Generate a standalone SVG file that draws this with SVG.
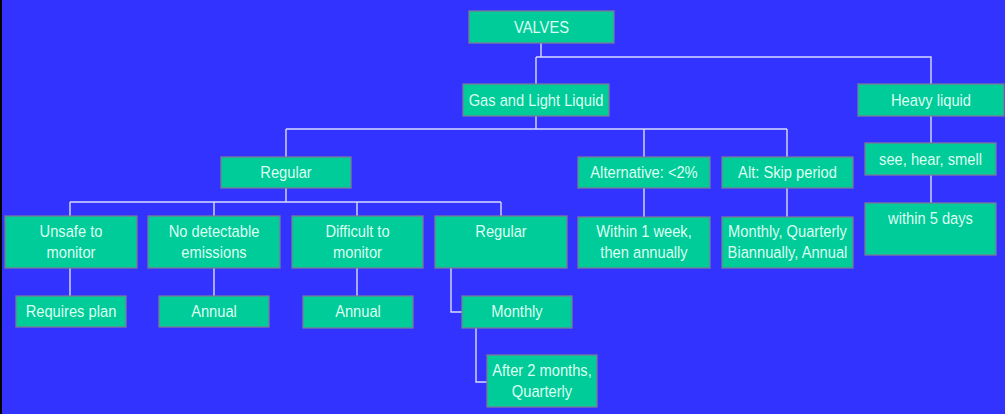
<svg xmlns="http://www.w3.org/2000/svg" width="1005" height="414" viewBox="0 0 1005 414">
<style>
.bx{fill:#00CC99;stroke:#7A7A9A;stroke-width:1.3}
.t{font-family:"Liberation Sans",Arial,sans-serif;font-size:17px;fill:#DDFFF2;text-anchor:middle}
.c{fill:none;stroke:#D8DCFF;stroke-width:1.4}
</style>
<rect x="0" y="0" width="1005" height="414" fill="#3333FF"/>
<rect x="0" y="0" width="2" height="414" fill="#000"/>
<g id="connectors">
<path class="c" d="M541 43V57M536 57H931V84M536 57V84"/>
<path class="c" d="M536 116V129M286 129H787M286 129V157M644 129V157M787 129V157"/>
<path class="c" d="M931 116V143M931 175V203"/>
<path class="c" d="M286 188V202M70 202H501M70 202V216M214 202V216M357 202V216M501 202V216"/>
<path class="c" d="M70 268V296M214 268V296M357 268V296"/>
<path class="c" d="M451 268V312H462M476 328V382H487"/>
<path class="c" d="M644 188V217M787 188V217"/>
</g>
<g id="n-valves"><rect class="bx" x="469" y="11" width="145" height="32"/><text class="t" transform="translate(541.5 33) scale(0.865 1)">VALVES</text></g>
<g id="n-gas"><rect class="bx" x="463" y="84" width="146" height="32"/><text class="t" transform="translate(536 106) scale(0.865 1)">Gas and Light Liquid</text></g>
<g id="n-heavy"><rect class="bx" x="858" y="84" width="146" height="32"/><text class="t" transform="translate(931 106) scale(0.865 1)">Heavy liquid</text></g>
<g id="n-see"><rect class="bx" x="865" y="143" width="131" height="32"/><text class="t" transform="translate(930.5 165) scale(0.865 1)">see, hear, smell</text></g>
<g id="n-within5"><rect class="bx" x="865" y="203" width="131" height="52"/><text class="t" transform="translate(930.5 224) scale(0.865 1)">within 5 days</text></g>
<g id="n-regular"><rect class="bx" x="221" y="157" width="130" height="31"/><text class="t" transform="translate(286 178) scale(0.865 1)">Regular</text></g>
<g id="n-alt2"><rect class="bx" x="578" y="157" width="132" height="31"/><text class="t" transform="translate(644 178) scale(0.865 1)">Alternative: &lt;2%</text></g>
<g id="n-skip"><rect class="bx" x="722" y="157" width="131" height="31"/><text class="t" transform="translate(787.5 178) scale(0.865 1)">Alt: Skip period</text></g>
<g id="n-unsafe"><rect class="bx" x="5" y="216" width="132" height="52"/><text class="t" transform="translate(71 237) scale(0.865 1)">Unsafe to</text><text class="t" transform="translate(71 258) scale(0.865 1)">monitor</text></g>
<g id="n-nodetect"><rect class="bx" x="148" y="216" width="132" height="52"/><text class="t" transform="translate(214 237) scale(0.865 1)">No detectable</text><text class="t" transform="translate(214 258) scale(0.865 1)">emissions</text></g>
<g id="n-difficult"><rect class="bx" x="292" y="216" width="131" height="52"/><text class="t" transform="translate(357.5 237) scale(0.865 1)">Difficult to</text><text class="t" transform="translate(357.5 258) scale(0.865 1)">monitor</text></g>
<g id="n-regular2"><rect class="bx" x="435" y="216" width="132" height="52"/><text class="t" transform="translate(501 237) scale(0.865 1)">Regular</text></g>
<g id="n-week"><rect class="bx" x="578" y="217" width="132" height="51"/><text class="t" transform="translate(644 237) scale(0.865 1)">Within 1 week,</text><text class="t" transform="translate(644 258) scale(0.865 1)">then annually</text></g>
<g id="n-mq"><rect class="bx" x="722" y="217" width="131" height="51"/><text class="t" transform="translate(787.5 237) scale(0.865 1)">Monthly, Quarterly</text><text class="t" transform="translate(787.5 258) scale(0.865 1)">Biannually, Annual</text></g>
<g id="n-plan"><rect class="bx" x="16" y="296" width="110" height="31"/><text class="t" transform="translate(71 317) scale(0.865 1)">Requires plan</text></g>
<g id="n-annual1"><rect class="bx" x="159" y="296" width="110" height="31"/><text class="t" transform="translate(214 317) scale(0.865 1)">Annual</text></g>
<g id="n-annual2"><rect class="bx" x="303" y="296" width="110" height="32"/><text class="t" transform="translate(358 317) scale(0.865 1)">Annual</text></g>
<g id="n-monthly"><rect class="bx" x="462" y="296" width="110" height="32"/><text class="t" transform="translate(517 317) scale(0.865 1)">Monthly</text></g>
<g id="n-after"><rect class="bx" x="487" y="355" width="110" height="52"/><text class="t" transform="translate(542 376) scale(0.865 1)">After 2 months,</text><text class="t" transform="translate(542 397) scale(0.865 1)">Quarterly</text></g>
</svg>
